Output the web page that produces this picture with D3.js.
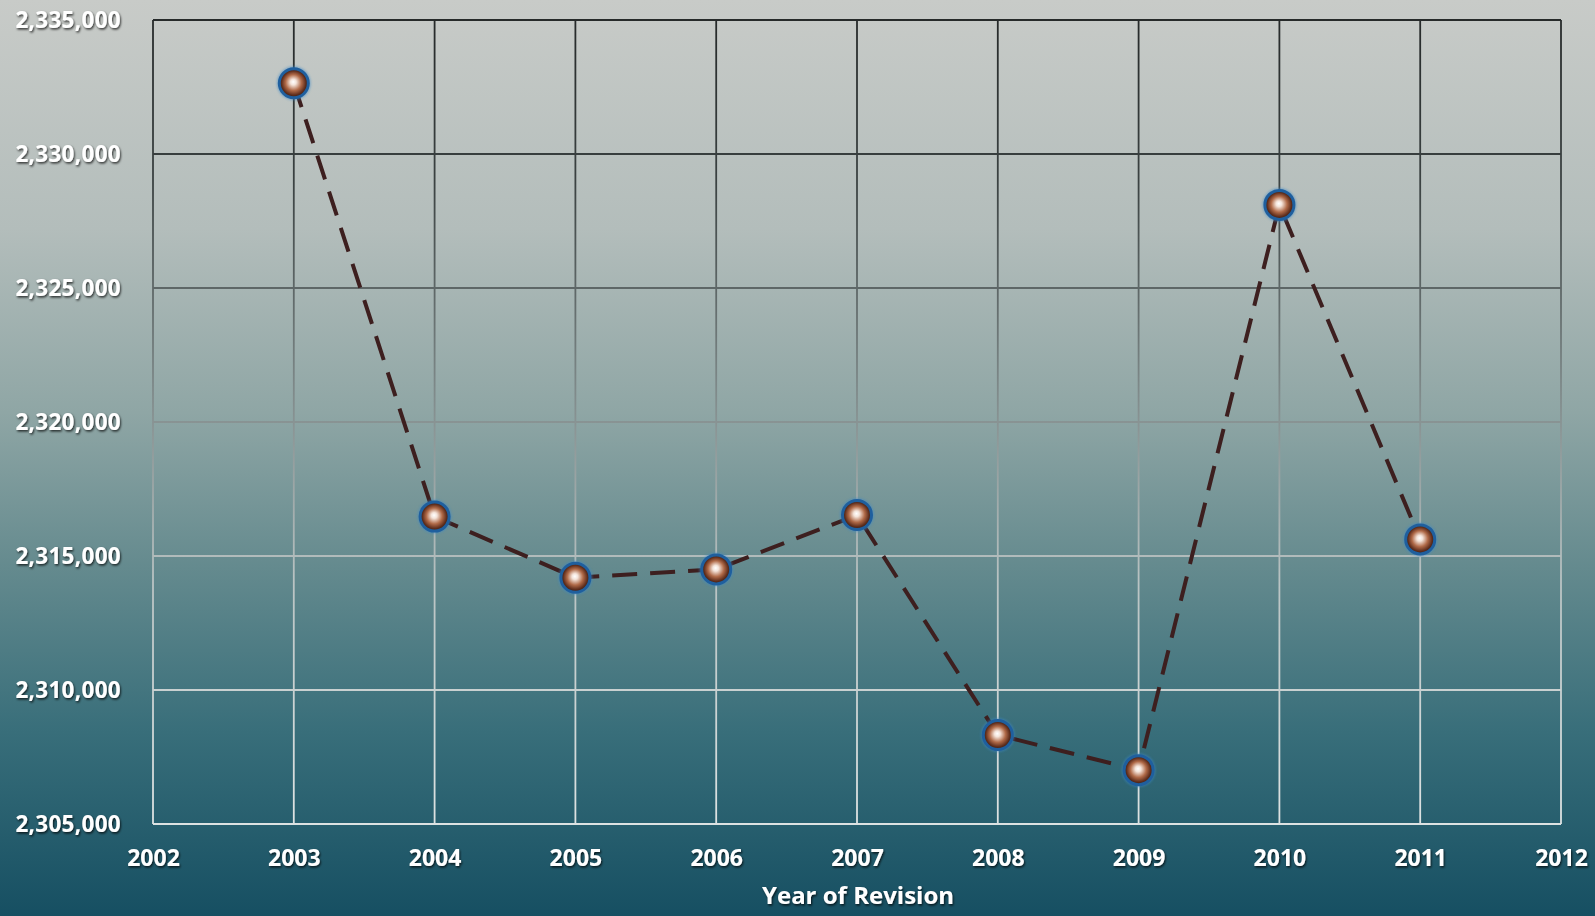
<!DOCTYPE html>
<html>
<head>
<meta charset="utf-8">
<script src="https://cdn.jsdelivr.net/npm/d3@7"></script>
<style>
  html, body { margin: 0; padding: 0; background: #1a5061; }
  svg { display: block; }
</style>
</head>
<body>
<svg id="chart" width="1595" height="916"></svg>
<script>
// Total by year of revision
const years = [2003, 2004, 2005, 2006, 2007, 2008, 2009, 2010, 2011];
const totals = [2332640, 2316470, 2314190, 2314500, 2316530, 2308320, 2307010, 2328100, 2315620];
const xTicks = [2002, 2003, 2004, 2005, 2006, 2007, 2008, 2009, 2010, 2011, 2012];
const yTicks = [2305000, 2310000, 2315000, 2320000, 2325000, 2330000, 2335000];
const xTitle = "Year of Revision";

const W = 1595, H = 916;
const margin = { left: 153, right: 34, top: 20, bottom: 92 };
const svg = d3.select("#chart");
const defs = svg.append("defs");

// page background: pale grey fading to deep teal
const bg = defs.append("linearGradient").attr("id", "bg")
  .attr("x1", 0).attr("y1", 0).attr("x2", 0).attr("y2", 1);
[[0, "#c8cbc8"], [0.25, "#b3bdbb"], [0.45, "#8fa6a5"], [0.62, "#648a8e"],
 [0.8, "#386e7a"], [1, "#164f62"]].forEach(([o, c]) =>
  bg.append("stop").attr("offset", o).attr("stop-color", c));
svg.append("rect").attr("width", W).attr("height", H).attr("fill", "url(#bg)");

const x = d3.scaleLinear().domain([2002, 2012]).range([margin.left, W - margin.right]);
const y = d3.scaleLinear().domain([2305000, 2335000]).range([H - margin.bottom, margin.top]);

// grid stroke: dark on the light top, light on the dark bottom
const gs = defs.append("linearGradient").attr("id", "gridStroke")
  .attr("gradientUnits", "userSpaceOnUse")
  .attr("x1", 0).attr("y1", y.range()[1]).attr("x2", 0).attr("y2", y.range()[0]);
[[0, "#262a2a"], [0.2, "#3b4242"], [0.45, "#7c8787"], [0.7, "#b9c3c3"], [1, "#dde2e2"]].forEach(([o, c]) =>
  gs.append("stop").attr("offset", o).attr("stop-color", c));

// text shadow
const sh = defs.append("filter").attr("id", "shadow")
  .attr("x", "-10%").attr("y", "-30%").attr("width", "130%").attr("height", "170%");
sh.append("feDropShadow").attr("dx", 1).attr("dy", 1.5).attr("stdDeviation", 1.2)
  .attr("flood-color", "#000").attr("flood-opacity", 0.75);

// marker fill: glossy white centre to brown rim
const mg = defs.append("radialGradient").attr("id", "dot")
  .attr("cx", "50%").attr("cy", "50%").attr("r", "50%").attr("fx", "48%").attr("fy", "45%");
[[0, "#ffffff"], [0.2, "#f4e4da"], [0.55, "#b06a48"], [0.82, "#62301e"], [1, "#361810"]].forEach(([o, c]) =>
  mg.append("stop").attr("offset", o).attr("stop-color", c));
const glow = defs.append("filter").attr("id", "glow")
  .attr("x", "-50%").attr("y", "-50%").attr("width", "200%").attr("height", "200%");
glow.append("feGaussianBlur").attr("stdDeviation", 1.3);

// gridlines, drawn in page coordinates so the stroke gradient lines up
const grid = svg.append("g");
grid.selectAll("line.v").data(xTicks).join("line").attr("class", "v")
  .attr("x1", d => x(d)).attr("x2", d => x(d))
  .attr("y1", y(2335000)).attr("y2", y(2305000))
  .attr("stroke", "url(#gridStroke)").attr("stroke-width", 1.8);
grid.selectAll("line.h").data(yTicks).join("line").attr("class", "h")
  .attr("x1", x(2002)).attr("x2", x(2012))
  .attr("y1", d => y(d)).attr("y2", d => y(d))
  .attr("stroke", "url(#gridStroke)").attr("stroke-width", 1.8);

// axis labels
const yAxis = svg.append("g")
  .attr("transform", `translate(${margin.left - 32},0)`)
  .call(d3.axisLeft(y).tickValues(yTicks).tickSize(0).tickPadding(0).tickFormat(d3.format(",")));
yAxis.select(".domain").remove();
yAxis.selectAll("text")
  .attr("fill", "#ffffff").attr("font-family", "'Open Sans', sans-serif")
  .attr("font-weight", 700).attr("font-size", 22.5).attr("letter-spacing", 0.3)
  .attr("dy", "0.32em").attr("filter", "url(#shadow)");

const xAxis = svg.append("g")
  .attr("transform", `translate(0,${H - margin.bottom})`)
  .call(d3.axisBottom(x).tickValues(xTicks).tickSize(0).tickPadding(0).tickFormat(d3.format("d")));
xAxis.select(".domain").remove();
xAxis.selectAll("text")
  .attr("fill", "#ffffff").attr("font-family", "'Open Sans', sans-serif")
  .attr("font-weight", 700).attr("font-size", 23)
  .attr("y", 35).attr("dy", "0.32em").attr("filter", "url(#shadow)");

svg.append("text")
  .attr("x", x(2007) + 1).attr("y", 896).attr("dy", "0.35em")
  .attr("text-anchor", "middle")
  .attr("fill", "#ffffff").attr("font-family", "'Open Sans', sans-serif")
  .attr("font-weight", 700).attr("font-size", 24).attr("filter", "url(#shadow)")
  .text(xTitle);

// dashed series line
const pts = years.map((yr, i) => [yr, totals[i]]);
svg.append("path")
  .datum(pts)
  .attr("fill", "none").attr("stroke", "#3d1f1f").attr("stroke-width", 4)
  .attr("stroke-dasharray", "25 13").attr("stroke-linecap", "butt")
  .attr("d", d3.line().x(d => x(d[0])).y(d => y(d[1])));

// markers
const dots = svg.append("g").selectAll("g").data(pts).join("g")
  .attr("transform", d => `translate(${x(d[0])},${y(d[1])})`);
dots.append("circle").attr("r", 17).attr("fill", "#3a88c8").attr("opacity", 0.5).attr("filter", "url(#glow)");
dots.append("circle").attr("r", 14.5).attr("fill", "url(#dot)")
  .attr("stroke", "#1f5f9e").attr("stroke-width", 3);
</script>
</body>
</html>
